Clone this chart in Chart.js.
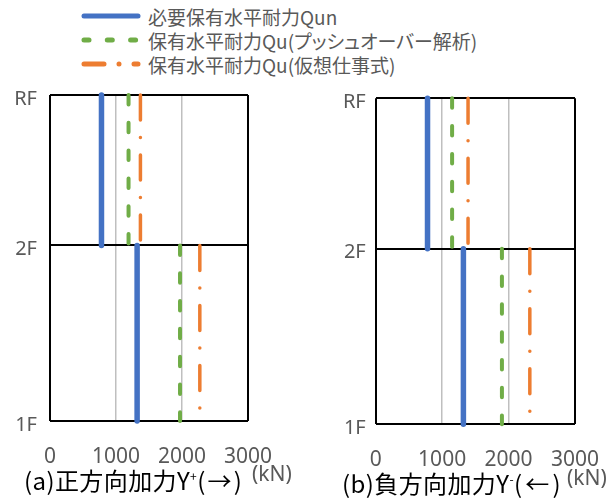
<!DOCTYPE html>
<html>
<head>
<meta charset="utf-8">
<script src="https://cdn.jsdelivr.net/npm/chart.js@4.4.0/dist/chart.umd.min.js"></script>
<style>
  body { margin: 0; background: #fff; }
  #wrap { position: relative; width: 611px; height: 501px; overflow: hidden; font-family: "Noto Sans CJK JP", "Noto Sans", sans-serif; }
  canvas { position: absolute; }
  #legend { position: absolute; left: 79px; top: 4px; color: #595959; font-size: 19px; font-feature-settings: "palt"; }
  .item { display: flex; align-items: center; height: 24px; white-space: nowrap; }
  .item svg { margin-right: 5px; }
  .cap { position: absolute; white-space: nowrap; line-height: 1; }
  .title { color: #000; font-size: 24px; letter-spacing: 0.4px; }
  .title .arr { display: inline-block; text-align: center; }
  .unit { color: #595959; font-size: 21px; font-family: "Noto Sans", sans-serif; }
  .title sup { font-size: 12px; vertical-align: 9px; }
</style>
</head>
<body>
<div id="wrap">
  <div id="legend"></div>
  <canvas id="chartPos" width="305" height="421" style="left:0;top:80px"></canvas>
  <canvas id="chartNeg" width="306" height="421" style="left:305px;top:80px"></canvas>
  <div class="cap title" style="left:24px;top:468px">(a)正方向加力Y<sup>+</sup>(<span class="arr" style="width:28px">→</span>)</div>
  <div class="cap unit" style="left:252px;top:463px">(kN)</div>
  <div class="cap title" style="left:342px;top:471px">(b)負方向加力Y<sup>-</sup>(<span class="arr" style="width:30px">←</span>)</div>
  <div class="cap unit" style="left:567px;top:467px">(kN)</div>
</div>
<script>
const floorLabels = ['1F', '2F', 'RF'];
const floorLevels = [0, 3.5, 6.5];
const xTicks = [0, 1000, 2000, 3000];
const seriesNames = ['必要保有水平耐力Qun', '保有水平耐力Qu(プッシュオーバー解析)', '保有水平耐力Qu(仮想仕事式)'];

// kN per story: [1F-2F, 2F-RF]
const posQun = [1320, 780];
const posQuPush = [1970, 1190];
const posQuWork = [2270, 1370];
const negQun = [1320, 780];
const negQuPush = [1900, 1150];
const negQuWork = [2320, 1390];

const seriesColors = ['#4472C4', '#70AD47', '#ED7D31'];
const seriesWidths = [5.5, 4, 3.5];
const seriesDash = [[], [9.5, 18.3], [25, 17.5, 0.01, 17.5]];
const legendDash = ['', '5 18.3', '20 15 0.01 15'];

// each story is drawn from its upper floor down to its lower floor
function storyPoints(vals) {
    const pts = [];
    for (let i = vals.length - 1; i >= 0; i--) {
        pts.push({ x: vals[i], y: floorLevels[i + 1] });
        pts.push({ x: vals[i], y: floorLevels[i] });
        if (i > 0) pts.push({ x: null, y: null });
    }
    return pts;
}

function makeChart(id, series, box) {
    return new Chart(document.getElementById(id), {
        type: 'scatter',
        data: {
            datasets: series.map((vals, i) => ({
                label: seriesNames[i],
                data: storyPoints(vals),
                showLine: true,
                spanGaps: false,
                borderColor: seriesColors[i],
                borderWidth: seriesWidths[i],
                borderDash: seriesDash[i],
                borderCapStyle: 'round',
                pointRadius: 0,
                clip: false
            }))
        },
        options: {
            responsive: false,
            animation: false,
            events: [],
            layout: { padding: { left: 0, top: box.top, right: box.right, bottom: 0 } },
            plugins: { legend: { display: false }, tooltip: { enabled: false } },
            scales: {
                x: {
                    type: 'linear',
                    min: 0,
                    max: 3000,
                    afterBuildTicks: s => { s.ticks = xTicks.map(v => ({ value: v })); },
                    afterFit: s => { s.height = box.xHeight; s.paddingLeft = 0; s.paddingRight = 0; },
                    border: { display: false },
                    grid: {
                        drawTicks: false,
                        color: c => (c.tick.value === 0 || c.tick.value === 3000) ? '#000' : '#BFBFBF',
                        lineWidth: c => (c.tick.value === 0 || c.tick.value === 3000) ? 2 : 1.5
                    },
                    ticks: {
                        padding: 23,
                        color: '#595959',
                        font: { family: 'Noto Sans', size: 21 },
                        callback: v => String(v)
                    }
                },
                y: {
                    type: 'linear',
                    min: floorLevels[0],
                    max: floorLevels[floorLevels.length - 1],
                    afterBuildTicks: s => { s.ticks = floorLevels.map(v => ({ value: v })); },
                    afterFit: s => { s.width = box.yWidth; s.paddingTop = 0; s.paddingBottom = 0; },
                    border: { display: false },
                    grid: { drawTicks: false, color: '#000', lineWidth: 2 },
                    ticks: {
                        padding: box.labelPad,
                        labelOffset: 4,
                        color: '#595959',
                        font: { family: 'Noto Sans', size: 20 },
                        callback: (v, i) => floorLabels[i]
                    }
                }
            }
        }
    });
}

makeChart('chartPos', [posQun, posQuPush, posQuWork], { top: 15, right: 57, yWidth: 50, xHeight: 80, labelPad: 13 });
makeChart('chartNeg', [negQun, negQuPush, negQuWork], { top: 18.3, right: 36, yWidth: 70.7, xHeight: 76.7, labelPad: 10 });

const legend = document.getElementById('legend');
seriesNames.forEach((name, i) => {
    const row = document.createElement('div');
    row.className = 'item';
    row.innerHTML = `<svg width="64" height="10"><line x1="5" y1="5" x2="59" y2="5" stroke="${seriesColors[i]}" stroke-width="5" stroke-linecap="round" stroke-dasharray="${legendDash[i]}"/></svg><span>${name}</span>`;
    legend.appendChild(row);
});
</script>
</body>
</html>
